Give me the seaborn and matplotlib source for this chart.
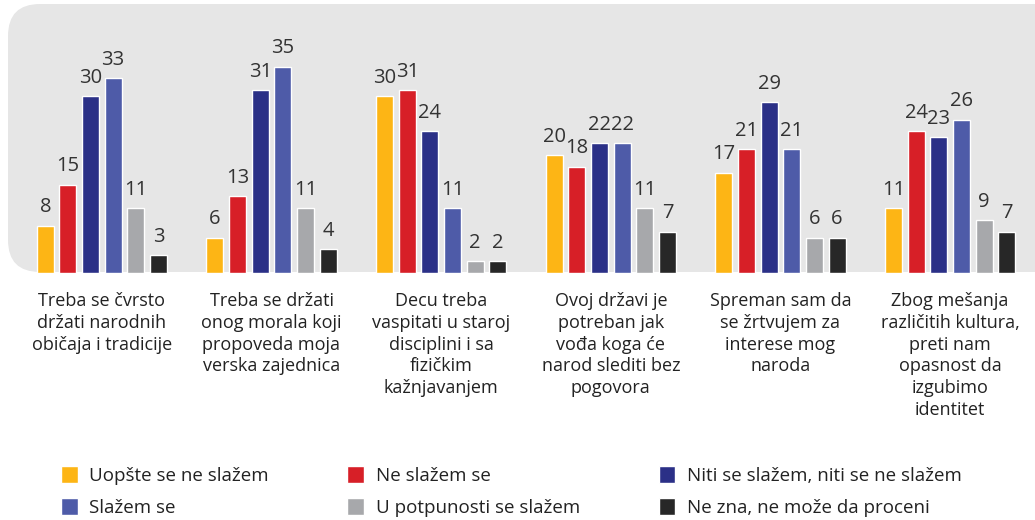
import matplotlib
matplotlib.use("Agg")
import matplotlib.pyplot as plt
from matplotlib.patches import FancyBboxPatch
import seaborn as sns
import pandas as pd

categories = [
    "Treba se čvrsto\ndržati narodnih\nobičaja i tradicije",
    "Treba se držati\nonog morala koji\npropoveda moja\nverska zajednica",
    "Decu treba\nvaspitati u staroj\ndisciplini i sa\nfizičkim\nkažnjavanjem",
    "Ovoj državi je\npotreban jak\nvođa koga će\nnarod slediti bez\npogovora",
    "Spreman sam da\nse žrtvujem za\ninterese mog\nnaroda",
    "Zbog mešanja\nrazličitih kultura,\npreti nam\nopasnost da\nizgubimo\nidentitet",
]
series_names = [
    "Uopšte se ne slažem",
    "Ne slažem se",
    "Niti se slažem, niti se ne slažem",
    "Slažem se",
    "U potpunosti se slažem",
    "Ne zna, ne može da proceni",
]
uopste = [8, 6, 30, 20, 17, 11]
ne_slazem = [15, 13, 31, 18, 21, 24]
niti = [30, 31, 24, 22, 29, 23]
slazem = [33, 35, 11, 22, 21, 26]
potpuno = [11, 11, 2, 11, 6, 9]
ne_zna = [3, 4, 2, 7, 6, 7]
colors = ["#FDB515", "#D71F27", "#2B3087", "#4E5BA8", "#A7A8AB", "#272727"]

values = [uopste, ne_slazem, niti, slazem, potpuno, ne_zna]
rows = []
for s, vals in zip(series_names, values):
    for c, v in zip(categories, vals):
        rows.append({"cat": c, "series": s, "val": v})
df = pd.DataFrame(rows)

sns.set_theme(style="white")
plt.rcParams["font.family"] = ["Open Sans", "DejaVu Sans"]

fig = plt.figure(figsize=(10.35, 5.2), dpi=100)
W, H = 1035, 520
# axes: x 17..1035, y 4..273 (top-origin)
ax = fig.add_axes([17 / W, (H - 273) / H, (1035 - 17) / W, (273 - 4) / H])
ax.set_facecolor("none")
ax.set_zorder(2)

panel = FancyBboxPatch((8, H - 272), 1200, 268,
                       boxstyle="round,pad=0,rounding_size=32",
                       transform=None, facecolor="#E6E6E6", edgecolor="none", zorder=-5)
fig.patches.append(panel)

sns.barplot(data=df, x="cat", y="val", hue="series", hue_order=series_names,
            order=categories, palette=colors, saturation=1, width=0.8, gap=0.25,
            ax=ax, legend=True)

for cont in ax.containers:
    ax.bar_label(cont, fmt="%d", padding=6, fontsize=14.5, color="#333333")

ax.set_xlim(-0.5, 5.5)
ax.set_ylim(0, 45.6)
ax.set_xlabel("")
ax.set_ylabel("")
ax.set_yticks([])
ax.tick_params(axis="x", length=0, pad=14, labelsize=13, labelcolor="#222222")
for lbl in ax.get_xticklabels():
    lbl.set_linespacing(1.26)
for sp in ax.spines.values():
    sp.set_visible(False)

handles, labels = ax.get_legend_handles_labels()
ax.get_legend().remove()
order = [0, 3, 1, 4, 2, 5]
fig.legend([handles[i] for i in order], [labels[i] for i in order],
           loc="upper left", bbox_to_anchor=(44 / W, 1 - 449 / H), ncol=3,
           frameon=False, fontsize=13.5, handlelength=0.9, handleheight=1.0,
           handletextpad=0.6, columnspacing=4.2, labelspacing=0.7,
           labelcolor="#222222")

fig.savefig("out.png", dpi=100)
